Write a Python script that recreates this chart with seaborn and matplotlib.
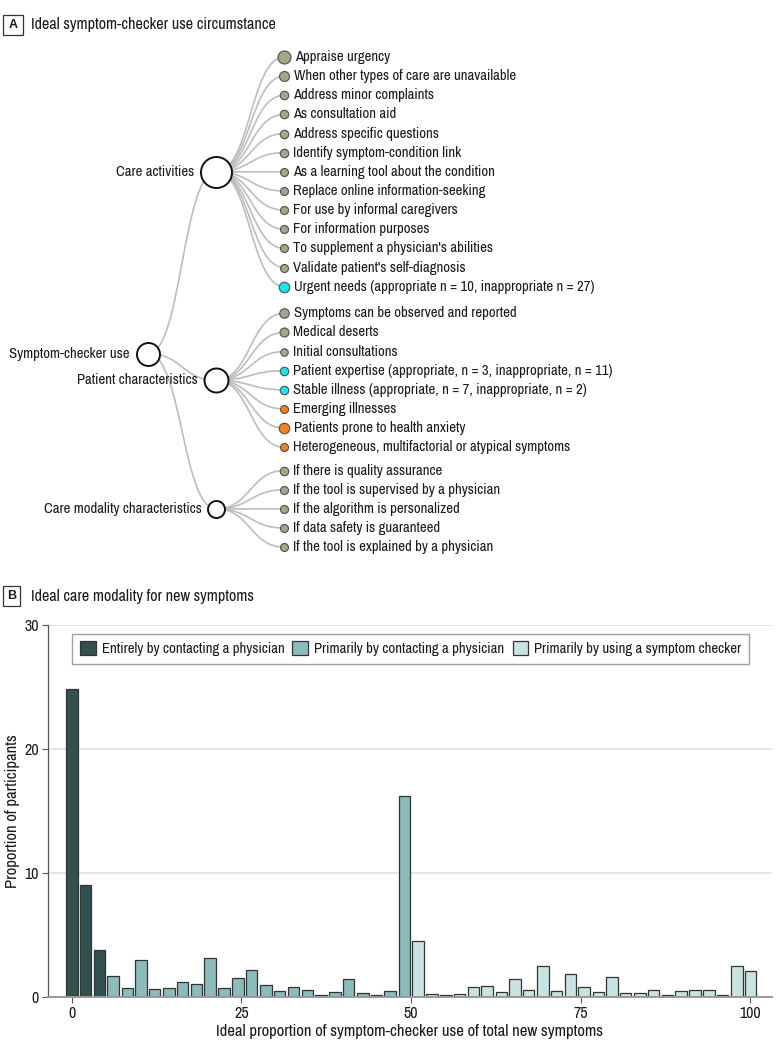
import numpy as np
import pandas as pd
import matplotlib
matplotlib.use("Agg")
import matplotlib.pyplot as plt
from matplotlib.path import Path
from matplotlib.patches import PathPatch, Rectangle
from matplotlib import font_manager
import seaborn as sns

# ---------------- data: panel A (tree) ----------------
ROOT_LABEL = "Symptom-checker use"
GROUP_LABELS = ["Care activities", "Patient characteristics", "Care modality characteristics"]
GROUP_NODE_SIZE = [31, 24, 17]          # node diameter (visual weight)
ROOT_NODE_SIZE = 23

care_activities = [
    "Appraise urgency",
    "When other types of care are unavailable",
    "Address minor complaints",
    "As consultation aid",
    "Address specific questions",
    "Identify symptom-condition link",
    "As a learning tool about the condition",
    "Replace online information-seeking",
    "For use by informal caregivers",
    "For information purposes",
    "To supplement a physician's abilities",
    "Validate patient's self-diagnosis",
    "Urgent needs (appropriate n = 10, inappropriate n = 27)",
]
care_activities_kind = ["appropriate"] * 12 + ["mixed"]
care_activities_size = [13, 10, 8.5, 8.5, 8.5, 8.5, 8, 8, 8, 8, 8, 8, 10.5]

patient_chars = [
    "Symptoms can be observed and reported",
    "Medical deserts",
    "Initial consultations",
    "Patient expertise (appropriate, n = 3, inappropriate, n = 11)",
    "Stable illness (appropriate, n = 7, inappropriate, n = 2)",
    "Emerging illnesses",
    "Patients prone to health anxiety",
    "Heterogeneous, multifactorial or atypical symptoms",
]
patient_chars_kind = ["appropriate"] * 3 + ["mixed"] * 2 + ["inappropriate"] * 3
patient_chars_size = [9.5, 9, 7.5, 8.5, 8.5, 8, 10.5, 8]

modality_chars = [
    "If there is quality assurance",
    "If the tool is supervised by a physician",
    "If the algorithm is personalized",
    "If data safety is guaranteed",
    "If the tool is explained by a physician",
]
modality_chars_kind = ["appropriate"] * 5
modality_chars_size = [8.5, 8, 8, 8, 8]

KIND_COLORS = {"appropriate": "#a5a58b", "mixed": "#1de3ec", "inappropriate": "#f58220"}

# ---------------- data: panel B (bars) ----------------
BIN_POSITIONS = [0, 2.0, 4.1, 6.1, 8.2, 10.2, 12.2, 14.3, 16.3, 18.4,
                 20.4, 22.4, 24.5, 26.5, 28.6, 30.6, 32.7, 34.7, 36.7, 38.8,
                 40.8, 42.9, 44.9, 46.9, 49.0, 51.0, 53.1, 55.1, 57.1, 59.2,
                 61.2, 63.3, 65.3, 67.3, 69.4, 71.4, 73.5, 75.5, 77.6, 79.6,
                 81.6, 83.7, 85.7, 87.8, 89.8, 91.8, 93.9, 95.9, 98.0, 100.0]
SHARE = [24.8, 9.0, 3.8, 1.67, 0.74, 3.0, 0.64, 0.74, 1.17, 1.06,
         3.16, 0.74, 1.54, 2.18, 0.95, 0.5, 0.82, 0.58, 0.13, 0.34,
         1.46, 0.32, 0.1, 0.42, 16.2, 4.5, 0.19, 0.1, 0.19, 0.77,
         0.9, 0.37, 1.46, 0.53, 2.49, 0.42, 1.8, 0.77, 0.34, 1.56,
         0.27, 0.29, 0.58, 0.16, 0.5, 0.56, 0.56, 0.13, 2.49, 2.07]
MODALITIES = ["Entirely by contacting a physician",
              "Primarily by contacting a physician",
              "Primarily by using a symptom checker"]
MODALITY_COUNTS = [3, 22, 25]
PALETTE = {MODALITIES[0]: "#2b5655", MODALITIES[1]: "#83c3c1", MODALITIES[2]: "#c4e7e6"}
Y_TICKS = [0, 10, 20, 30]
X_TICKS = [0, 25, 50, 75, 100]

# ---------------- style ----------------
sns.set_theme(style="white")
names = sorted({f.name for f in font_manager.fontManager.ttflist})
narrow = [n for n in names if ("Narrow" in n or "Condensed" in n)]
if narrow:
    base = narrow[0]
    F = 1.0
else:
    base = "Liberation Sans"
    F = 0.86
plt.rcParams["font.family"] = [base, "DejaVu Sans"]
TXT = "#1a1a1a"
FS_LEAF = 10.6 * F
FS_TITLE = 11.6 * F
FS_LEG = 10.7 * F
FS_AX = 12.0 * F
FS_TICK = 11.5 * F

W, H = 783, 1054
fig = plt.figure(figsize=(W / 100, H / 100), dpi=100)

# ---------------- panel A ----------------
axA = fig.add_axes([0, 1 - 575 / H, 1, 535 / H])
axA.set_axis_off()
LX0, LDX = 148, 68.2          # px of level 0 and px per level
SY0, SDY = 57, 19.14          # px of slot 0 and px per slot
axA.set_xlim(-LX0 / LDX, (W - LX0) / LDX)
axA.set_ylim((575 - SY0) / SDY, (40 - SY0) / SDY)

groups = [
    (care_activities, care_activities_kind, care_activities_size),
    (patient_chars, patient_chars_kind, patient_chars_size),
    (modality_chars, modality_chars_kind, modality_chars_size),
]
GROUP_GAPS = [0.0, 0.39, 0.22]


def link(ax, x0, y0, x1, y1):
    xm = (x0 + x1) / 2
    p = Path([(x0, y0), (xm, y0), (xm, y1), (x1, y1)],
             [Path.MOVETO, Path.CURVE4, Path.CURVE4, Path.CURVE4])
    ax.add_patch(PathPatch(p, fc="none", ec="#bdbdbd", lw=1.2, zorder=1))


slot = 0.0
group_y = []
leaf_rows = []
for gi, (labels, kinds, sizes) in enumerate(groups):
    slot += GROUP_GAPS[gi]
    ys = []
    for lab, kd, sz in zip(labels, kinds, sizes):
        leaf_rows.append((gi, slot, lab, kd, sz))
        ys.append(slot)
        slot += 1
    group_y.append(np.mean(ys))
root_y = np.mean(group_y)

for gi, gy in enumerate(group_y):
    link(axA, 0, root_y, 1, gy)
for gi, ly, lab, kd, sz in leaf_rows:
    link(axA, 1, group_y[gi], 2, ly)

# leaves
for gi, ly, lab, kd, sz in leaf_rows:
    axA.scatter([2], [ly], s=(sz * 0.72) ** 2, color=KIND_COLORS[kd],
                edgecolor="#505050", linewidth=0.8, zorder=3)
    axA.annotate(lab, (2, ly), xytext=((sz / 2 + 4.5) * 0.72, 0),
                 textcoords="offset points", ha="left", va="center",
                 fontsize=FS_LEAF, color=TXT)

# group nodes
for gi, gy in enumerate(group_y):
    d = GROUP_NODE_SIZE[gi]
    axA.scatter([1], [gy], s=(d * 0.72) ** 2, color="white",
                edgecolor="#111111", linewidth=1.4, zorder=3)
    axA.annotate(GROUP_LABELS[gi], (1, gy), xytext=(-(d / 2 + 6) * 0.72, 0),
                 textcoords="offset points", ha="right", va="center",
                 fontsize=FS_LEAF, color=TXT)
axA.scatter([0], [root_y], s=(ROOT_NODE_SIZE * 0.72) ** 2, color="white",
            edgecolor="#111111", linewidth=1.4, zorder=3)
axA.annotate(ROOT_LABEL, (0, root_y), xytext=(-(ROOT_NODE_SIZE / 2 + 7) * 0.72, 0),
             textcoords="offset points", ha="right", va="center",
             fontsize=FS_LEAF, color=TXT)

# panel titles


def panel_title(letter, title, y_px, box_w):
    fig.patches.append(Rectangle((3 / W, 1 - (y_px + 10) / H), box_w / W, 20 / H,
                                 transform=fig.transFigure, fc="white",
                                 ec="#333333", lw=0.9))
    fig.text((3 + box_w / 2) / W, 1 - y_px / H, letter, ha="center", va="center",
             fontsize=9, fontweight="bold", color=TXT,
             family=["Liberation Sans", "DejaVu Sans"])
    fig.text(31 / W, 1 - y_px / H, title, ha="left", va="center",
             fontsize=FS_TITLE, color=TXT)


panel_title("A", "Ideal symptom-checker use circumstance", 25, 20)
panel_title("B", "Ideal care modality for new symptoms", 596, 17)

# ---------------- panel B ----------------
modality = []
for m, c in zip(MODALITIES, MODALITY_COUNTS):
    modality += [m] * c
df = pd.DataFrame({"pos": BIN_POSITIONS, "share": SHARE, "modality": modality})

axB = fig.add_axes([48.3 / W, 1 - 996.7 / H, (771.5 - 48.3) / W, (996.7 - 625) / H])
sns.barplot(data=df, x="pos", y="share", hue="modality", hue_order=MODALITIES,
            palette=PALETTE, native_scale=True, dodge=False, width=0.85,
            errorbar=None, edgecolor="#333333", linewidth=0.9, ax=axB)
axB.set_xlim(-3.46, 103.1)
axB.set_ylim(0, 30)
axB.set_yticks(Y_TICKS)
axB.set_xticks(X_TICKS)
axB.set_yticklabels([str(v) for v in Y_TICKS])
axB.set_xticklabels([str(v) for v in X_TICKS])
for v in Y_TICKS[1:]:
    axB.axhline(v, color="#dddddd", lw=1.1, zorder=0)
axB.set_axisbelow(True)
for s in ["top", "right"]:
    axB.spines[s].set_visible(False)
axB.spines["left"].set_color("#555555")
axB.spines["left"].set_linewidth(0.9)
axB.spines["bottom"].set_color("#9a9a9a")
axB.spines["bottom"].set_linewidth(1.4)
axB.tick_params(axis="both", which="both", length=4, width=0.8, color="#555555",
                labelsize=FS_TICK, labelcolor=TXT, pad=3, left=True, bottom=True)
axB.set_xlabel("Ideal proportion of symptom-checker use of total new symptoms",
               fontsize=FS_AX, color=TXT, labelpad=2)
axB.set_ylabel("Proportion of participants", fontsize=FS_AX, color=TXT)
axB.yaxis.set_label_coords(-0.039, 0.5)

handles, labels = axB.get_legend_handles_labels()
for h in handles:
    h.set_edgecolor("#333333")
    h.set_linewidth(0.9)
leg = axB.legend(handles, labels, ncol=3, loc="upper center",
                 bbox_to_anchor=(0.501, 0.976), frameon=True, fancybox=False,
                 fontsize=FS_LEG, handlelength=1.07, handleheight=1.0,
                 handletextpad=0.4, columnspacing=0.55,
                 borderpad=0.5, borderaxespad=0, edgecolor="#888888")
leg.get_frame().set_linewidth(1.0)
for t in leg.get_texts():
    t.set_color(TXT)

fig.savefig("out.png", dpi=100)
